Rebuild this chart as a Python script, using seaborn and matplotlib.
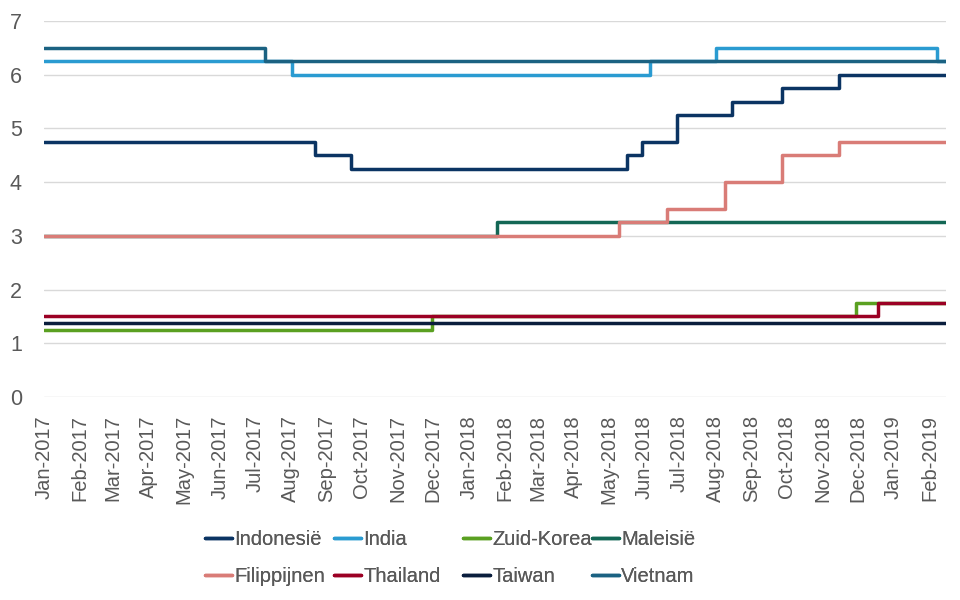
import pandas as pd
import numpy as np
import matplotlib
matplotlib.use("Agg")
import matplotlib.pyplot as plt
import matplotlib.dates as mdates
import seaborn as sns

# beleidsrentes: datum van wijziging en nieuwe rente
end_date = "2019-02-15"

indonesie_dates = ["2017-01-01", "2017-08-22", "2017-09-22", "2018-05-17", "2018-05-30",
                   "2018-06-29", "2018-08-15", "2018-09-27", "2018-11-15"]
indonesie_rates = [4.75, 4.50, 4.25, 4.50, 4.75, 5.25, 5.50, 5.75, 6.00]

india_dates = ["2017-01-01", "2017-08-02", "2018-06-06", "2018-08-01", "2019-02-07"]
india_rates = [6.25, 6.00, 6.25, 6.50, 6.25]

korea_dates = ["2017-01-01", "2017-11-30", "2018-11-30"]
korea_rates = [1.25, 1.50, 1.75]

maleisie_dates = ["2017-01-01", "2018-01-25"]
maleisie_rates = [3.00, 3.25]

filippijnen_dates = ["2017-01-01", "2018-05-10", "2018-06-20", "2018-08-09", "2018-09-27", "2018-11-15"]
filippijnen_rates = [3.00, 3.25, 3.50, 4.00, 4.50, 4.75]

thailand_dates = ["2017-01-01", "2018-12-19"]
thailand_rates = [1.50, 1.75]

taiwan_dates = ["2017-01-01"]
taiwan_rates = [1.375]

vietnam_dates = ["2017-01-01", "2017-07-10"]
vietnam_rates = [6.50, 6.25]

series = [
    ("Indonesië", indonesie_dates, indonesie_rates, "#0b3463"),
    ("India", india_dates, india_rates, "#2a9bd1"),
    ("Zuid-Korea", korea_dates, korea_rates, "#5aa021"),
    ("Maleisië", maleisie_dates, maleisie_rates, "#136755"),
    ("Filippijnen", filippijnen_dates, filippijnen_rates, "#d97c77"),
    ("Thailand", thailand_dates, thailand_rates, "#9b0024"),
    ("Taiwan", taiwan_dates, taiwan_rates, "#0a1e3d"),
    ("Vietnam", vietnam_dates, vietnam_rates, "#1b6282"),
]

frames = []
for name, dates, rates, _ in series:
    d = pd.DataFrame({"datum": pd.to_datetime(dates + [end_date]),
                      "rente": rates + [rates[-1]],
                      "land": name})
    frames.append(d)
df = pd.concat(frames, ignore_index=True)
palette = {name: c for name, _, _, c in series}

sns.set_theme(style="white")
plt.rcParams['font.family'] = ['Liberation Sans', 'DejaVu Sans']

fig = plt.figure(figsize=(9.6, 6), dpi=100)
ax = fig.add_axes([44 / 960, 1 - 397 / 600, (946 - 44) / 960, (397 - 21) / 600])

sns.lineplot(data=df, x="datum", y="rente", hue="land", palette=palette,
             drawstyle="steps-post", linewidth=2.5, ax=ax, legend=False)

ax.set_xlim(pd.Timestamp("2017-01-01"), pd.Timestamp(end_date))
ax.set_ylim(0, 7)
ax.set_yticks(range(0, 8))
ax.yaxis.grid(True, color="#d9d9d9", linewidth=1)
ax.set_axisbelow(True)
for s in ax.spines.values():
    s.set_visible(False)
ax.xaxis.set_major_locator(mdates.MonthLocator())
ax.xaxis.set_major_formatter(mdates.DateFormatter("%b-%Y"))
ax.tick_params(axis="x", rotation=90, labelsize=14.5, colors="#595959", length=0, pad=13)
ax.tick_params(axis="y", labelsize=15.5, colors="#595959", length=0, pad=16)
ax.set_xlabel("")
ax.set_ylabel("")

# legenda: vier kolommen van gelijke breedte, zoals in Excel
col_x = [205, 334, 463, 592]
for k in range(4):
    idx = [k, k + 4]
    handles = [plt.Line2D([], [], color=series[i][3], linewidth=2.5) for i in idx]
    labels = [series[i][0] for i in idx]
    leg = fig.legend(handles, labels, loc="center left",
                     bbox_to_anchor=(col_x[k] / 960, 1 - 558 / 600),
                     frameon=False, fontsize=14.5, labelcolor="#595959",
                     handlelength=1.35, handletextpad=0.1, labelspacing=0.85,
                     borderpad=0, borderaxespad=0)
    fig.add_artist(leg)

fig.savefig("out.png", dpi=100)
